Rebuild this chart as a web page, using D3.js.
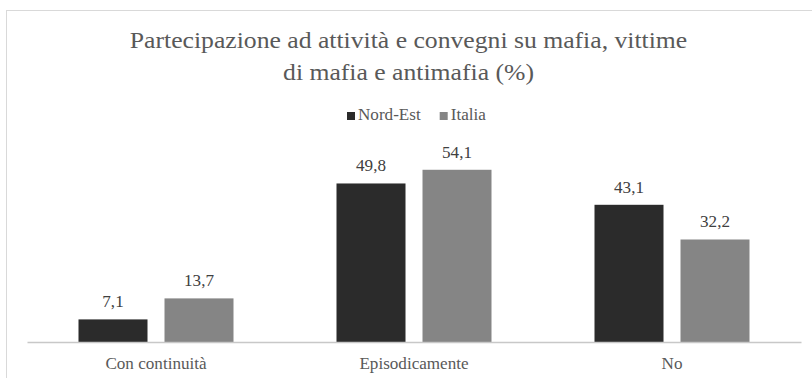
<!DOCTYPE html>
<html><head><meta charset="utf-8"><script src="https://cdn.jsdelivr.net/npm/d3@7"></script></head>
<body style="margin:0">
<svg id="chart" width="812" height="378" font-family="Liberation Serif"></svg>
<script>
const titleLines = ["Partecipazione ad attività e convegni su mafia, vittime", "di mafia e antimafia (%)"];
const categories = ["Con continuità", "Episodicamente", "No"];
const seriesNames = ["Nord-Est", "Italia"];
const nordEst = [7.1, 49.8, 43.1];
const italia = [13.7, 54.1, 32.2];
const colors = ["#2b2b2b", "#858585"];

const FONT = "Liberation Serif";
const STRETCH = 1.07; // slightly widened glyphs
const series = [nordEst, italia];
const rows = categories.map((c, i) => ({
  cat: c,
  vals: seriesNames.map((s, k) => ({ key: s, value: series[k][i], color: colors[k] }))
}));

const svg = d3.select("#chart");
const plot = { left: 27, right: 801, top: 151, bottom: 342 };

function styled(sel, size, fill) {
  return sel.attr("fill", fill)
    .attr("font-family", FONT)
    .style("font-family", `'${FONT}'`)
    .style("font-size", size + "px");
}

// chart frame
svg.append("rect")
  .attr("x", 6.5).attr("y", 10.5)
  .attr("width", 900).attr("height", 500)
  .attr("fill", "#fff").attr("stroke", "#d9d9d9").attr("stroke-width", 1);

// two-line title
titleLines.forEach((line, i) => {
  const g = svg.append("g").attr("transform", `translate(408.5,${48 + i * 32}) scale(${STRETCH},1)`);
  styled(g.append("text").attr("text-anchor", "middle"), 24, "#595959").text(line);
});

// legend
const legend = svg.append("g").attr("transform", "translate(347,0)");
let lx = 0;
seriesNames.forEach((name, k) => {
  const g = legend.append("g").attr("transform", `translate(${lx},0)`);
  g.append("rect").attr("x", 0).attr("y", 112).attr("width", 8).attr("height", 8).attr("fill", colors[k]);
  const tg = g.append("g").attr("transform", `translate(11,120) scale(${STRETCH},1)`);
  const t = styled(tg.append("text"), 16, "#595959").text(name);
  lx += 11 + t.node().getComputedTextLength() * STRETCH + 19;
});

// scales
const x0 = d3.scaleBand().domain(categories).range([plot.left, plot.right]);
const barW = 69, barGap = 17;
const groupW = barW * 2 + barGap;
const y = d3.scaleLinear().domain([0, 60]).range([plot.bottom, plot.top]);

const groups = svg.append("g").selectAll("g").data(rows).join("g")
  .attr("transform", d => `translate(${x0(d.cat) + (x0.bandwidth() - groupW) / 2},0)`);

groups.selectAll("rect").data(d => d.vals).join("rect")
  .attr("x", (d, k) => k * (barW + barGap))
  .attr("width", barW)
  .attr("y", d => y(d.value))
  .attr("height", d => y(0) - y(d.value))
  .attr("fill", d => d.color);

// value labels above bars
const labels = groups.selectAll("g.val").data(d => d.vals).join("g")
  .attr("class", "val")
  .attr("transform", (d, k) => `translate(${k * (barW + barGap) + barW / 2},${y(d.value) - 12}) scale(${STRETCH},1)`);
styled(labels.append("text").attr("text-anchor", "middle"), 16, "#404040")
  .text(d => d3.format(".1f")(d.value).replace(".", ","));

// x axis
const xAxis = svg.append("g").attr("transform", `translate(0,${plot.bottom})`)
  .call(d3.axisBottom(x0).tickSize(0).tickPadding(16));
xAxis.attr("font-family", FONT);
xAxis.select(".domain").attr("stroke", "#c8c8c8").attr("stroke-width", 1.5);
styled(xAxis.selectAll("text"), 16, "#595959")
  .attr("transform", `scale(${STRETCH},1)`);
</script>
</body></html>
